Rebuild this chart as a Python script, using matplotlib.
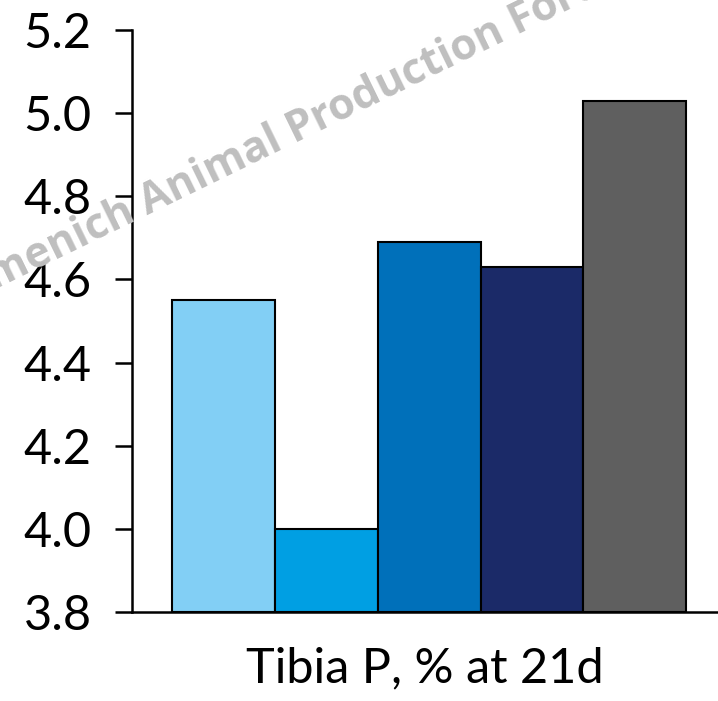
import matplotlib.pyplot as plt

# Tibia phosphorus at 21 days, one bar per treatment
groups = ["T1", "T2", "T3", "T4", "T5"]
tibia_p = [4.55, 4.00, 4.69, 4.63, 5.03]
colors = ["#82CFF5", "#009FE3", "#0070BA", "#1B2A68", "#5F5F5F"]
yticks = [3.8, 4.0, 4.2, 4.4, 4.6, 4.8, 5.0, 5.2]

fig = plt.figure(figsize=(7.18, 7.01), dpi=100)
ax = fig.add_axes([132 / 718, 1 - 612 / 701, 1 - 132 / 718, 582 / 701])

x = list(range(len(groups)))
ax.bar(x, [v - 3.8 for v in tibia_p], bottom=3.8, width=1.0, color=colors,
       edgecolor="black", linewidth=1.5, zorder=2)

ax.set_ylim(3.8, 5.2)
ax.set_xlim(-0.89, 4.81)
ax.set_yticks(yticks)
ax.set_yticklabels([f"{t:.1f}" for t in yticks], fontsize=35, family="Lato")
ax.set_xticks([])
ax.set_xlabel("Tibia P, % at 21d", fontsize=35, family="Lato", labelpad=25)

for side in ["top", "right"]:
    ax.spines[side].set_visible(False)
ax.spines["left"].set_linewidth(1.8)
ax.spines["bottom"].set_linewidth(1.8)
ax.spines["bottom"].set_zorder(3)
ax.tick_params(axis="y", length=12, width=1.8, pad=17)

# watermark across the upper left
fig.text(-6 / 718, 1 - 290 / 701, "menich Animal Production Forum", rotation=26,
         fontsize=31, family="Open Sans", fontweight="bold", color="#BFBFBF",
         ha="left", va="baseline", rotation_mode="anchor", zorder=10)

fig.savefig("out.png", dpi=100)
